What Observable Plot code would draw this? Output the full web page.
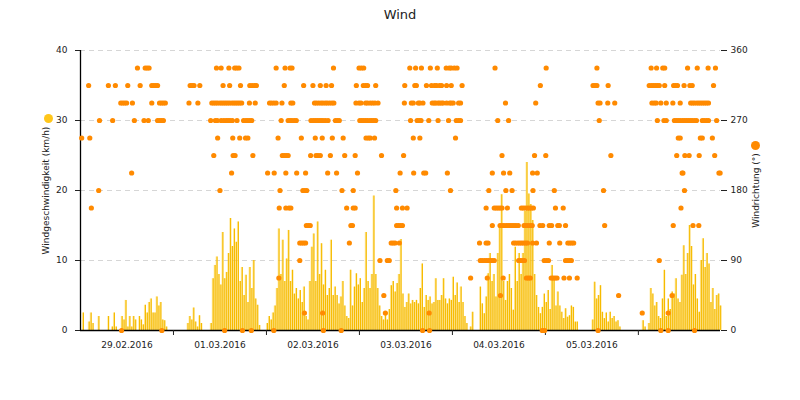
<!DOCTYPE html>
<html><head><meta charset="utf-8">
<script src="https://cdn.jsdelivr.net/npm/d3@7"></script>
<script src="https://cdn.jsdelivr.net/npm/@observablehq/plot@0.6"></script>
<style>
body{margin:0;background:#fff;font-family:"DejaVu Sans",Verdana,sans-serif;}
#wrap{position:relative;width:800px;height:400px;}
#title{position:absolute;top:7px;left:0;width:800px;text-align:center;font-size:13px;color:#222;}
.leg{position:absolute;width:9px;height:9px;border-radius:50%;}
#chart{position:absolute;left:0;top:0;}
</style></head><body>
<div id="wrap">
<div id="chart"></div>
<div id="title">Wind</div>
<div class="leg" style="left:44px;top:114px;background:#ffc61a"></div>
<div class="leg" style="left:751px;top:141px;background:#ff8a00"></div>
</div>
<script>
// Wind speed (km/h), half-hour values per day, starting 00:00
const speed29 = [0,2.5,0,0,1.2,2.5,1,0,0,2, 0,0,0,0,2,0,0.5,2.5,0.5,0, 0,2,1.5,4.3,0.5,2,0.5,2,1.5,0, 2,1.5,0.8,3.6,2.5,4,4.5,2.5,2.5,4.8, 3.5,4,1.5,1.4,0.5,0,0,0];
const speed01 = [0,0,0,0,0,0,0,1,2,1.5, 3.2,1.2,0.5,2.1,1,0,0,0,0,1, 7.4,9.3,10.5,8,6.5,14,7.4,8.3,11,16, 12,14.5,12.6,15.5,7,9,5,7.9,4,9, 6,10,4.5,3.6,0.7,0,0,0];
const speed02 = [1,2,1.5,2.5,3.5,6,14.5,8,12.9,7, 10.2,14.3,7,8.6,5.2,6,4.5,5.7,4,6.2, 2,1.5,7,11.9,13.8,7,15.5,8,12.4,6.5, 8.6,5,6,12.9,5,6.2,5,3.8,4.8,7, 3.5,2,1.7,8.6,3.5,6.2,8.1,6.5];
const speed03 = [7.4,4,6,14,7,6,8,19.2,8,6, 3.5,2,1.5,2.5,1.5,3,6.4,7,5.5,6.7, 8,13,5.2,3.3,4,5.2,3.8,4.3,4,4.3, 3.8,6,9.5,3.3,5,4.3,4.8,3.8,4,7.4, 4.3,4.3,5,7.4,4.5,3.8,4.5,4.3];
const speed04 = [7.6,5,6.8,4,6.2,4,2,1,0,0.5, 2.6,0,0,0,6.2,3.8,2.4,4.8,8.1,11, 7,8,4.8,11,14.8,19.4,7,4.3,7,8, 6,2.9,11.9,7,11,8,11,17,24,19.5, 18,15.7,8,5,3.3,2.4,3.3,5.2];
const speed05 = [4,5.7,3,9.3,7.4,3.5,5.5,3.5,2.6,1.7, 3.1,1.9,2.1,3.5,3.3,1.2,1.2,0,0,0, 0,0,0,0,1.5,6.9,4.5,5,6.4,2.6, 1.7,2.5,1.2,2.6,1.7,2,1.2,1.4,0.5,0, 0,0,0,0,0,0,0,0];
const speed06 = [0,0,1.4,0.5,0,1,6,5.2,3.5,4, 2,1.7,4.5,8.6,2,4.5,3,5.5,5.2,7.4, 4.5,4,7.9,12.1,8,11,15,12,6.5,8, 4.5,2.6,10,13.1,9,11,9.5,4,6,3, 5,5.2,3.5];

// Wind direction observations: hours since 29.02.2016 00:00, grouped by direction (°)
const dir337 = [14.7,16.7,17.2,17.7,35.1,36.3,38.3,39.8,40.3,40.9,50.5,52.8,54.1,54.6,65.3,71.9,72.5,73.1,85.0,86.5,88.0,90.3,92.1,94.4,95.2,95.7,96.5,97.2,107.0,120.2,133.3,147.3,148.7,150.3,150.8,156.7,159.2,162.0,163.9];
const dir315 = [2.1,7.2,9.0,12.2,15.4,18.4,18.9,19.4,19.9,28.3,28.8,29.3,30.8,36.8,38.5,41.3,43.7,44.3,44.9,45.4,52.6,57.6,60.0,61.9,63.4,64.8,71.2,73.0,73.6,74.1,76.2,83.7,86.3,86.7,89.3,90.6,91.4,91.9,92.7,93.2,94.5,95.7,98.5,118.7,132.3,132.8,133.3,136.2,146.8,147.4,147.9,148.4,148.9,149.4,150.8,153.1,153.6,154.1,155.8,157.3,157.9,163.4];
const dir292 = [10.4,10.9,11.4,11.9,13.4,18.4,20.4,20.9,21.4,21.9,28.0,30.3,33.9,34.4,34.9,35.4,36.0,36.5,37.0,37.5,38.0,38.5,39.1,39.6,40.1,40.6,41.1,41.6,43.6,45.1,48.8,49.3,49.9,50.5,52.0,54.3,54.8,60.4,60.9,61.5,62.1,62.6,63.2,63.7,64.3,64.9,65.4,71.1,71.9,72.4,73.6,74.1,74.8,75.4,76.0,76.8,83.6,85.4,85.9,87.2,87.6,88.4,90.8,91.3,91.7,92.3,92.7,93.2,93.6,94.5,95.3,95.7,96.2,97.6,98.1,109.7,117.5,133.6,134.1,136.1,137.9,147.5,148.1,148.6,149.8,151.2,152.9,154.8,157.5,158.0,158.5,159.1,159.6,160.1,160.6,161.1,161.6,162.1];
const dir270 = [4.9,8.3,13.9,16.4,17.5,19.9,20.4,20.9,21.4,33.6,34.8,35.3,36.3,37.0,37.6,38.1,38.6,39.2,40.4,42.1,42.7,43.2,43.7,44.2,51.8,53.6,54.1,54.6,55.2,55.7,59.5,60.1,60.6,61.1,61.6,62.1,62.6,63.2,63.9,65.8,66.3,66.8,72.1,72.6,73.1,73.6,74.1,74.7,75.2,75.7,76.2,85.2,86.9,87.4,87.9,89.9,92.3,95.0,97.0,97.6,98.1,107.7,110.5,133.9,148.9,150.6,151.2,153.3,153.8,154.3,154.8,155.4,155.9,156.4,156.9,157.4,157.9,158.5,159.0,160.5,161.0,161.6,162.1,164.2];
const dir247 = [0.3,2.4,35.4,39.3,41.1,42.6,43.2,51.0,57.0,60.6,62.4,65.0,67.8,73.7,74.3,74.8,75.9,85.9,87.6,96.8,154.3,154.8,160.0,160.5,163.1];
const dir225 = [34.4,39.4,39.9,44.5,52.1,52.6,53.1,53.6,59.4,60.8,61.3,61.9,64.5,68.2,70.9,77.7,83.4,108.8,117.2,120.1,136.9,153.9,156.0,157.1,159.7,163.7];
const dir202 = [13.2,39.0,48.3,50.0,53.0,55.8,58.1,63.8,66.1,71.5,82.5,86.0,88.6,89.1,94.7,106.3,109.2,110.8,116.7,117.9,155.3,155.5,164.8,165.1];
const dir180 = [4.7,36.0,51.5,57.4,57.9,58.4,67.5,70.4,81.4,95.5,105.4,109.8,111.4,116.8,122.3,135.0,155.9];
const dir157 = [2.8,51.3,53.0,53.8,54.3,68.7,70.4,70.9,81.6,83.1,84.3,104.7,106.8,107.3,107.8,108.3,108.8,110.2,113.8,114.3,114.8,115.4,115.9,116.4,116.9,122.6,124.6,155.0];
const dir135 = [58.3,58.8,59.3,69.8,70.2,81.6,82.1,82.6,83.1,106.3,108.3,108.8,109.3,109.9,110.4,110.9,111.4,111.9,112.4,113.0,114.5,115.0,115.5,116.1,116.6,118.6,119.3,121.0,121.6,123.2,123.6,125.2,135.3,153.0,158.1,159.6];
const dir112 = [56.6,57.1,57.6,58.1,69.4,80.2,80.7,81.2,82.3,103.0,104.7,105.2,111.8,112.3,112.9,113.4,113.9,114.4,114.9,115.4,116.7,117.7,121.0,123.7,125.8,126.3,126.8,127.3];
const dir90 = [56.6,77.3,79.2,79.7,103.2,103.7,104.3,104.8,105.3,105.8,106.3,106.8,113.1,113.6,114.1,114.6,119.7,120.3,120.8,125.2,125.7,126.2,126.7,149.4];
const dir67 = [51.2,100.7,105.0,109.1,115.1,115.6,116.1,121.5,122.0,122.5,123.0,124.8,126.2,128.2];
const dir45 = [78.3,108.4,138.9,152.7];
const dir22 = [57.8,62.5,78.7,90.0,145.0,151.7];
const dir0 = [10.6,21.0,37.2,41.8,44.1,49.9,62.7,67.3,88.3,90.1,119.2,119.8,133.6,149.8,151.7,158.5];

const dirGroups = [[337.5,dir337],[315,dir315],[292.5,dir292],[270,dir270],[247.5,dir247],[225,dir225],[202.5,dir202],[180,dir180],[157.5,dir157],[135,dir135],[112.5,dir112],[90,dir90],[67.5,dir67],[45,dir45],[22.5,dir22],[0,dir0]];

const speedTicks = [0,10,20,30,40];
const dirTicks = [0,90,180,270,360];
const dayLabels = ["29.02.2016","01.03.2016","02.03.2016","03.03.2016","04.03.2016","05.03.2016"];

const HOUR = 3600e3;
const start = Date.UTC(2016,1,29);
const end = start + 165.2*HOUR;
const days = [speed29,speed01,speed02,speed03,speed04,speed05,speed06];
const speedData = days.flatMap((arr,di)=>arr.map((v,i)=>({
  t1:new Date(start+(di*24+i*0.5)*HOUR),
  t2:new Date(start+(di*24+i*0.5+0.5)*HOUR),
  tm:new Date(start+(di*24+i*0.5+0.25)*HOUR), v})));
const dirData = dirGroups.flatMap(([deg,hrs])=>hrs.map(h=>({t:new Date(start+h*HOUR),deg})));
const boundaries = dayLabels.slice(1).map((_,i)=>new Date(start+(i+1)*24*HOUR)).concat([new Date(start+6*24*HOUR)]);
const centers = dayLabels.map((_,i)=>new Date(start+(i*24+12)*HOUR));
const degPerUnit = dirTicks[dirTicks.length-1]/speedTicks[speedTicks.length-1];

const chart = Plot.plot({
  width:800, height:400,
  marginLeft:80, marginRight:80, marginTop:50, marginBottom:70,
  style:{fontFamily:"DejaVu Sans, Verdana, sans-serif", fontSize:"9px", color:"#222", background:"#fff"},
  x:{type:"utc", domain:[new Date(start), new Date(end)]},
  y:{domain:[speedTicks[0], speedTicks[speedTicks.length-1]]},
  marks:[
    Plot.gridY(speedTicks.slice(1), {stroke:"#d6d6d6", strokeOpacity:1, strokeDasharray:"5,4"}),
    Plot.rectY(speedData, {x1:"t1", x2:"t2", y:"v", fill:"#ffd54a", fillOpacity:0.45}),
    Plot.ruleX(speedData, {x:"tm", y1:0, y2:"v", stroke:"#f6bb00", strokeWidth:1.2}),
    Plot.ruleY([speedTicks[0]], {stroke:"#000", strokeWidth:1.3}),
    Plot.ruleX([new Date(start)], {stroke:"#000", strokeWidth:1.3}),
    Plot.axisY(speedTicks, {anchor:"left", tickSize:5, tickPadding:8, label:"Windgeschwindigkeit (km/h)", labelAnchor:"center", labelArrow:"none", labelOffset:38}),
    Plot.axisY(speedTicks, {anchor:"right", tickSize:6, tickPadding:4, tickFormat:d=>String(dirTicks[speedTicks.indexOf(d)]), label:"Windrichtung (°)", labelAnchor:"center", labelArrow:"none", labelOffset:38}),
    Plot.axisX(boundaries, {tickSize:5, tickFormat:()=>"", label:null}),
    Plot.axisX(centers, {tickSize:0, tickPadding:11, tickFormat:(d,i)=>dayLabels[i], label:null}),
    Plot.dot(dirData, {x:"t", y:d=>d.deg/degPerUnit, r:2.6, fill:"#ff8a00"})
  ]
});
document.getElementById("chart").appendChild(chart);
</script>
</body></html>
